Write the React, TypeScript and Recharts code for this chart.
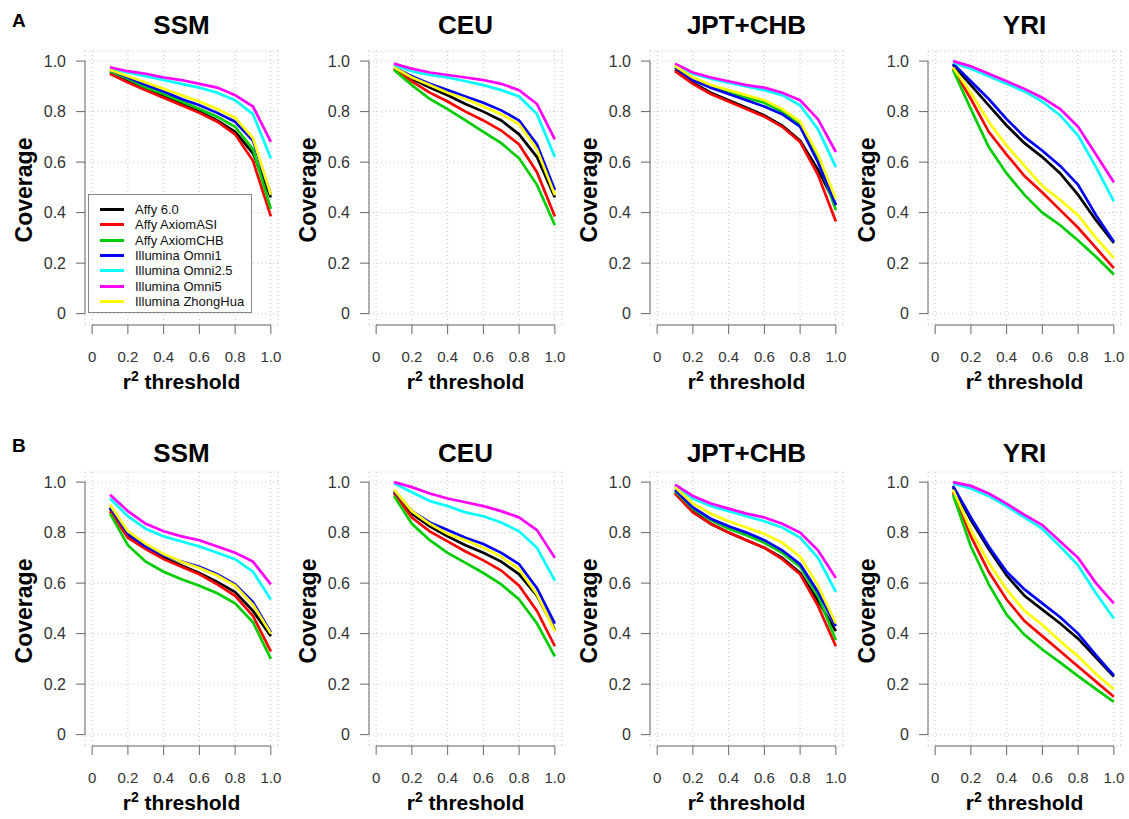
import { LineChart, Line, XAxis, YAxis, CartesianGrid, ReferenceLine, Legend, Label } from 'recharts';

const FONT = '"Liberation Sans", Arial, Helvetica, sans-serif';

// r^2 thresholds on the x axis
const thresholds = [0.1, 0.2, 0.3, 0.4, 0.5, 0.6, 0.7, 0.8, 0.9, 1.0];
const axisTicks = [0, 0.2, 0.4, 0.6, 0.8, 1.0];

const seriesNames = [
  'Affy 6.0',
  'Affy AxiomASI',
  'Affy AxiomCHB',
  'Illumina Omni1',
  'Illumina Omni2.5',
  'Illumina Omni5',
  'Illumina ZhongHua',
];
const seriesColors = ['#000000', '#ff0000', '#00cd00', '#0000ff', '#00ffff', '#ff00ff', '#ffff00'];

// rows follow seriesNames order
const aSSM = [
  [0.955, 0.92, 0.89, 0.86, 0.83, 0.8, 0.765, 0.72, 0.635, 0.46],
  [0.95, 0.915, 0.885, 0.855, 0.825, 0.795, 0.76, 0.71, 0.605, 0.385],
  [0.96, 0.93, 0.895, 0.87, 0.84, 0.81, 0.78, 0.74, 0.65, 0.415],
  [0.965, 0.935, 0.905, 0.88, 0.85, 0.825, 0.795, 0.76, 0.685, 0.47],
  [0.97, 0.955, 0.94, 0.925, 0.91, 0.895, 0.875, 0.845, 0.79, 0.615],
  [0.975, 0.96, 0.95, 0.935, 0.925, 0.91, 0.895, 0.865, 0.82, 0.68],
  [0.965, 0.94, 0.915, 0.89, 0.865, 0.84, 0.81, 0.775, 0.695, 0.47],
];
const aCEU = [
  [0.97, 0.93, 0.895, 0.865, 0.83, 0.8, 0.765, 0.71, 0.62, 0.46],
  [0.97, 0.92, 0.875, 0.84, 0.8, 0.765, 0.725, 0.67, 0.56, 0.385],
  [0.965, 0.905, 0.85, 0.81, 0.765, 0.72, 0.675, 0.615, 0.51, 0.35],
  [0.975, 0.94, 0.91, 0.885, 0.86, 0.835, 0.805, 0.765, 0.67, 0.49],
  [0.985, 0.96, 0.945, 0.935, 0.92, 0.905, 0.885, 0.86, 0.79, 0.62],
  [0.99, 0.97, 0.955, 0.945, 0.935, 0.925, 0.91, 0.885, 0.83, 0.69],
  [0.975, 0.935, 0.905, 0.875, 0.85, 0.82, 0.79, 0.75, 0.65, 0.47],
];
const aJPT = [
  [0.965, 0.915, 0.875, 0.845, 0.815, 0.785, 0.745, 0.685, 0.57, 0.43],
  [0.96, 0.91, 0.87, 0.84, 0.81, 0.78, 0.74, 0.68, 0.55, 0.365],
  [0.975, 0.93, 0.9, 0.875, 0.855, 0.835, 0.8, 0.75, 0.61, 0.41],
  [0.975, 0.925, 0.895, 0.87, 0.845, 0.82, 0.79, 0.74, 0.6, 0.43],
  [0.985, 0.95, 0.93, 0.915, 0.9, 0.885, 0.865, 0.825, 0.73, 0.58],
  [0.99, 0.955, 0.935, 0.92, 0.905, 0.895, 0.875, 0.845, 0.77, 0.64],
  [0.98, 0.935, 0.905, 0.885, 0.865, 0.845, 0.81, 0.76, 0.63, 0.455],
];
const aYRI = [
  [0.985, 0.905, 0.825, 0.745, 0.675, 0.62, 0.555, 0.47, 0.37, 0.28],
  [0.97, 0.85, 0.72, 0.63, 0.545, 0.48, 0.41, 0.34, 0.26, 0.18],
  [0.965, 0.81, 0.66, 0.555, 0.47, 0.4, 0.35, 0.29, 0.225, 0.155],
  [0.99, 0.92, 0.85, 0.77, 0.7, 0.645, 0.585, 0.51, 0.39, 0.285],
  [0.995, 0.97, 0.94, 0.91, 0.88, 0.84, 0.785, 0.705, 0.58, 0.445],
  [1.0, 0.98, 0.95, 0.92, 0.89, 0.855, 0.81, 0.74, 0.63, 0.52],
  [0.975, 0.875, 0.76, 0.665, 0.585, 0.505, 0.45, 0.39, 0.3, 0.22],
];
const bSSM = [
  [0.895, 0.79, 0.74, 0.7, 0.67, 0.64, 0.605, 0.565, 0.49, 0.39],
  [0.885, 0.78, 0.735, 0.695, 0.665, 0.635, 0.595, 0.55, 0.47, 0.33],
  [0.875, 0.75, 0.685, 0.645, 0.615, 0.59, 0.56, 0.52, 0.445, 0.3],
  [0.9, 0.795, 0.745, 0.71, 0.685, 0.665, 0.635, 0.595, 0.525, 0.405],
  [0.935, 0.865, 0.815, 0.785, 0.765, 0.745, 0.72, 0.695, 0.645, 0.535],
  [0.95, 0.885, 0.835, 0.805, 0.785, 0.77, 0.745, 0.72, 0.685, 0.595],
  [0.91, 0.805, 0.755, 0.715, 0.685, 0.66, 0.63, 0.59, 0.515, 0.4],
];
const bCEU = [
  [0.96, 0.875, 0.825, 0.785, 0.75, 0.72, 0.685, 0.635, 0.55, 0.415],
  [0.955, 0.86, 0.805, 0.765, 0.725, 0.69, 0.65, 0.59, 0.49, 0.35],
  [0.945, 0.835, 0.77, 0.72, 0.68, 0.64, 0.595, 0.535, 0.44, 0.31],
  [0.965, 0.885, 0.84, 0.81, 0.78, 0.755, 0.72, 0.675, 0.58, 0.44],
  [0.995, 0.96, 0.925, 0.905, 0.88, 0.865, 0.84, 0.805, 0.74, 0.61],
  [1.0, 0.98, 0.955, 0.935, 0.92, 0.905, 0.885, 0.86, 0.81, 0.7],
  [0.97, 0.885, 0.835, 0.795, 0.77, 0.74, 0.705, 0.655, 0.555, 0.41],
];
const bJPT = [
  [0.96, 0.885, 0.835, 0.8, 0.77, 0.74, 0.7, 0.64, 0.53, 0.41],
  [0.955, 0.88, 0.835, 0.8, 0.77, 0.74, 0.695, 0.635, 0.51, 0.35],
  [0.965, 0.895, 0.85, 0.815, 0.79, 0.76, 0.72, 0.665, 0.55, 0.375],
  [0.97, 0.9, 0.855, 0.825, 0.8, 0.77, 0.73, 0.675, 0.565, 0.43],
  [0.985, 0.935, 0.905, 0.885, 0.865, 0.845, 0.82, 0.78, 0.7, 0.565],
  [0.99, 0.945, 0.915, 0.895, 0.875, 0.86, 0.835, 0.8, 0.73, 0.62],
  [0.98, 0.915, 0.875, 0.845, 0.82, 0.795, 0.76, 0.705, 0.59, 0.44],
];
const bYRI = [
  [0.98, 0.85, 0.735, 0.63, 0.55, 0.495, 0.44, 0.38, 0.305, 0.23],
  [0.96, 0.785, 0.645, 0.535, 0.45, 0.39, 0.33, 0.27, 0.21, 0.15],
  [0.95, 0.745, 0.595, 0.475, 0.395, 0.337, 0.285, 0.232, 0.18, 0.13],
  [0.985, 0.86, 0.745, 0.645, 0.575, 0.52, 0.465, 0.4, 0.315, 0.235],
  [0.995, 0.975, 0.945, 0.905, 0.86, 0.815, 0.745, 0.67, 0.56, 0.46],
  [1.0, 0.985, 0.955, 0.915, 0.87, 0.83, 0.765, 0.7, 0.6, 0.52],
  [0.97, 0.81, 0.68, 0.575, 0.49, 0.435, 0.37, 0.31, 0.24, 0.18],
];

const populations = ['SSM', 'CEU', 'JPT+CHB', 'YRI'];
const panelRows = [
  { tag: 'A', tables: [aSSM, aCEU, aJPT, aYRI] },
  { tag: 'B', tables: [bSSM, bCEU, bJPT, bYRI] },
];

// layout (px)
const PLOT_LEFT = 85;
const PLOT_TOP = 51;
const PLOT_W = 193;
const PLOT_H = 274;
const CHART_W = 282;
const CHART_H = 400;
const colLefts = [0, 284, 565, 843];
const rowTops = [0, 421];
const titleY = [25, 32];
const tagY = [21, 25];

const X_DOMAIN = [-0.04, 1.04];
const Y_DOMAIN = [-0.045, 1.04];

const fmt = (v: number) => (v === 0 ? '0' : v.toFixed(1));

const xLabel = () => (
  <text
    x={PLOT_LEFT + PLOT_W / 2}
    y={PLOT_TOP + PLOT_H + 64}
    textAnchor="middle"
    fontFamily={FONT}
    fontWeight="bold"
    fontSize={21}
    fill="#000"
  >
    <tspan>r</tspan>
    <tspan dy={-8} fontSize={14}>2</tspan>
    <tspan dy={8}> threshold</tspan>
  </text>
);

const yLabel = () => {
  const cx = PLOT_LEFT - 61;
  const cy = PLOT_TOP + PLOT_H / 2 + 2;
  return (
    <text
      x={cx}
      y={cy}
      transform={`rotate(-90 ${cx} ${cy})`}
      textAnchor="middle"
      dominantBaseline="central"
      fontFamily={FONT}
      fontWeight="bold"
      fontSize={23}
      fill="#000"
    >
      Coverage
    </text>
  );
};

const renderLegend = (props: any) => {
  const items = props.payload ?? [];
  return (
    <div
      style={{
        boxSizing: 'border-box',
        width: 164,
        height: 119,
        border: '1px solid #888',
        background: '#fff',
        paddingTop: 7,
        fontFamily: FONT,
        fontSize: 13,
        color: '#111',
      }}
    >
      {items.map((it: any) => (
        <div key={it.value} style={{ display: 'flex', alignItems: 'center', height: 15.3, whiteSpace: 'nowrap' }}>
          <span style={{ display: 'inline-block', width: 24, height: 3, background: it.color, margin: '0 11px' }} />
          <span>{it.value}</span>
        </div>
      ))}
    </div>
  );
};

type PanelProps = { title: string; table: number[][]; left: number; top: number; tY: number; showLegend: boolean };

const Panel = ({ title, table, left, top, tY, showLegend }: PanelProps) => {
  const data = thresholds.map((x, i) => {
    const row: Record<string, number> = { x };
    table.forEach((s, k) => {
      row['s' + k] = s[i];
    });
    return row;
  });

  return (
    <div style={{ position: 'absolute', left, top, width: CHART_W, height: CHART_H }}>
      <div
        style={{
          position: 'absolute',
          left: PLOT_LEFT + PLOT_W / 2 - 100,
          width: 200,
          top: tY - 15,
          height: 30,
          lineHeight: '30px',
          textAlign: 'center',
          fontFamily: FONT,
          fontWeight: 'bold',
          fontSize: 26,
          color: '#000',
        }}
      >
        {title}
      </div>
      <LineChart width={CHART_W} height={CHART_H} data={data} margin={{ top: PLOT_TOP, right: 4, bottom: 15, left: 25 }}>
        <CartesianGrid stroke="#c4c4c4" strokeDasharray="1 3" />
        <XAxis
          type="number"
          dataKey="x"
          domain={X_DOMAIN}
          allowDataOverflow
          ticks={axisTicks}
          interval={0}
          tickFormatter={fmt}
          axisLine={false}
          tickLine={{ stroke: '#666' }}
          tickSize={9}
          tickMargin={17}
          height={60}
          tick={{ fontSize: 15, fill: '#333', fontFamily: FONT }}
        >
          <Label content={xLabel} />
        </XAxis>
        <YAxis
          type="number"
          domain={Y_DOMAIN}
          allowDataOverflow
          ticks={axisTicks}
          interval={0}
          tickFormatter={fmt}
          axisLine={false}
          tickLine={{ stroke: '#666' }}
          tickSize={9}
          tickMargin={10}
          width={60}
          tick={{ fontSize: 16, fill: '#333', fontFamily: FONT }}
        >
          <Label content={yLabel} />
        </YAxis>
        <ReferenceLine segment={[{ x: 0, y: Y_DOMAIN[0] }, { x: 1, y: Y_DOMAIN[0] }]} stroke="#666" ifOverflow="visible" />
        <ReferenceLine segment={[{ x: X_DOMAIN[0], y: 0 }, { x: X_DOMAIN[0], y: 1 }]} stroke="#666" ifOverflow="visible" />
        {seriesNames.map((name, k) => (
          <Line
            key={name}
            type="linear"
            dataKey={'s' + k}
            name={name}
            stroke={seriesColors[k]}
            strokeWidth={2.7}
            dot={false}
            activeDot={false}
            isAnimationActive={false}
          />
        ))}
        {showLegend && (
          <Legend
            layout="vertical"
            align="center"
            verticalAlign="middle"
            content={renderLegend}
            wrapperStyle={{ left: 88, top: 194, width: 164, height: 119 }}
          />
        )}
      </LineChart>
    </div>
  );
};

export default function App() {
  return (
    <div style={{ position: 'absolute', left: 0, top: 0, width: 1129, height: 819, background: '#fff', overflow: 'hidden' }}>
      {panelRows.map((row, r) => (
        <div key={row.tag}>
          <div
            style={{
              position: 'absolute',
              left: 12,
              top: rowTops[r] + tagY[r] - 12,
              height: 24,
              lineHeight: '24px',
              fontFamily: FONT,
              fontWeight: 'bold',
              fontSize: 19,
              color: '#000',
            }}
          >
            {row.tag}
          </div>
          {row.tables.map((table, c) => (
            <Panel
              key={populations[c]}
              title={populations[c]}
              table={table}
              left={colLefts[c]}
              top={rowTops[r]}
              tY={titleY[r]}
              showLegend={r === 0 && c === 0}
            />
          ))}
        </div>
      ))}
    </div>
  );
}
